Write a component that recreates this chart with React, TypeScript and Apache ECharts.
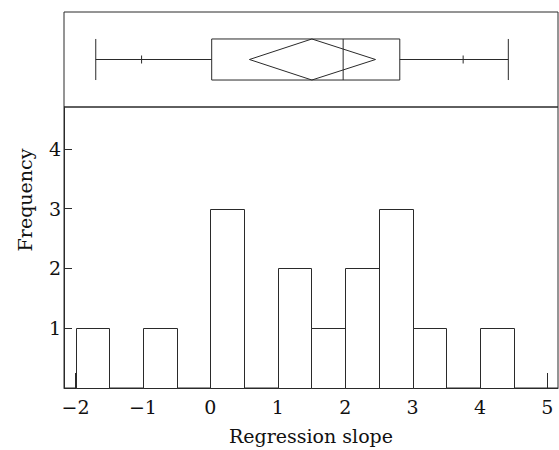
import React, { useEffect, useRef } from "react";
import * as echarts from "echarts";

// Histogram bins (left edges), bin width and counts
const binStarts = [-2, -1, 0, 1, 1.5, 2, 2.5, 3, 4];
const binWidth = 0.5;
const counts = [1, 1, 3, 2, 1, 2, 3, 1, 1];

// Box plot summary: [min, p10, q1, median, q3, p90, max]
const boxStats = [-1.7, -1.02, 0.02, 1.97, 2.81, 3.75, 4.42];
// Mean diamond: [lower, mean, upper]
const meanDiamond = [0.58, 1.506, 2.45];

const xTicks = [-2, -1, 0, 1, 2, 3, 4, 5];
const yTicks = [1, 2, 3, 4];

const X_MIN = -2.171;
const X_MAX = 5.157;
const Y_MAX = 4.7;

const FONT = "DejaVu Serif";
const LINE = "#2a2a2a";

export default function App() {
  const ref = useRef<HTMLDivElement>(null);

  useEffect(() => {
    if (!ref.current) return;
    const chart = echarts.init(ref.current, null, { renderer: "svg" });

    const fmt = (v: number) => (v < 0 ? "\u2212" + Math.abs(v) : String(v));

    const option: any = {
      animation: false,
      backgroundColor: "#fff",
      grid: [
        {
          left: 64,
          top: 12,
          width: 494,
          height: 95,
          show: true,
          borderColor: LINE,
          borderWidth: 1,
          backgroundColor: "transparent",
        },
        {
          left: 64,
          top: 107,
          width: 494,
          height: 282,
          show: true,
          borderColor: LINE,
          borderWidth: 1,
          backgroundColor: "transparent",
        },
      ],
      xAxis: [
        {
          gridIndex: 0,
          type: "value",
          min: X_MIN,
          max: X_MAX,
          show: false,
        },
        {
          gridIndex: 1,
          type: "value",
          min: X_MIN,
          max: X_MAX,
          splitLine: { show: false },
          axisLine: { show: true, onZero: false, lineStyle: { color: LINE, width: 1 } },
          axisTick: {
            show: true,
            inside: true,
            length: 15,
            customValues: xTicks,
            lineStyle: { color: LINE, width: 1 },
          },
          axisLabel: {
            show: true,
            customValues: xTicks,
            margin: 9,
            formatter: fmt,
            fontFamily: FONT,
            fontSize: 19,
            color: "#111",
          },
          name: "Regression slope",
          nameLocation: "middle",
          nameGap: 38,
          nameTextStyle: { fontFamily: FONT, fontSize: 19, color: "#111" },
        },
      ],
      yAxis: [
        {
          gridIndex: 0,
          type: "value",
          min: 0,
          max: 1,
          show: false,
        },
        {
          gridIndex: 1,
          type: "value",
          min: 0,
          max: Y_MAX,
          splitLine: { show: false },
          axisLine: { show: true, onZero: false, lineStyle: { color: LINE, width: 1 } },
          axisTick: {
            show: true,
            inside: true,
            length: 8,
            customValues: yTicks,
            lineStyle: { color: LINE, width: 1 },
          },
          axisLabel: {
            show: true,
            customValues: yTicks,
            margin: 3,
            fontFamily: FONT,
            fontSize: 19,
            color: "#111",
          },
        },
      ],
      graphic: [
        {
          type: "text",
          x: 24.5,
          y: 200,
          rotation: Math.PI / 2,
          style: {
            text: "Frequency",
            fontFamily: FONT,
            fontSize: 19,
            fill: "#111",
            textAlign: "center",
            textVerticalAlign: "middle",
          },
        },
      ],
      series: [
        {
          type: "custom",
          xAxisIndex: 1,
          yAxisIndex: 1,
          clip: false,
          data: binStarts.map((s, i) => [s, s + binWidth, counts[i]]),
          renderItem: (params: any, api: any) => {
            const x0 = api.value(0);
            const x1 = api.value(1);
            const c = api.value(2);
            const p0 = api.coord([x0, c]);
            const p1 = api.coord([x1, 0]);
            return {
              type: "rect",
              shape: {
                x: Math.round(p0[0]) + 0.5,
                y: Math.round(p0[1]) + 0.5,
                width: Math.round(p1[0]) - Math.round(p0[0]),
                height: Math.round(p1[1]) - Math.round(p0[1]),
              },
              style: { fill: "#fff", stroke: LINE, lineWidth: 1 },
            };
          },
        },
        {
          type: "custom",
          xAxisIndex: 0,
          yAxisIndex: 0,
          clip: false,
          data: [[...boxStats, ...meanDiamond]],
          renderItem: (params: any, api: any) => {
            const v = (i: number) => api.value(i);
            const X = (x: number) => api.coord([x, 0.5])[0];
            const yMid = api.coord([0, 0.5])[1];
            const yTop = api.coord([0, 0.716])[1];
            const yBot = api.coord([0, 0.284])[1];
            const tickH = 4;
            const style = { stroke: LINE, lineWidth: 1, fill: "none" };
            const ln = (x1: number, y1: number, x2: number, y2: number) => ({
              type: "line",
              shape: { x1, y1, x2, y2 },
              style,
            });
            const mn = X(v(0));
            const p10 = X(v(1));
            const q1 = X(v(2));
            const med = X(v(3));
            const q3 = X(v(4));
            const p90 = X(v(5));
            const mx = X(v(6));
            const dL = X(v(7));
            const dM = X(v(8));
            const dR = X(v(9));
            return {
              type: "group",
              children: [
                ln(mn, yMid, q1, yMid),
                ln(q3, yMid, mx, yMid),
                ln(mn, yTop, mn, yBot),
                ln(mx, yTop, mx, yBot),
                ln(p10, yMid - tickH, p10, yMid + tickH),
                ln(p90, yMid - tickH, p90, yMid + tickH),
                {
                  type: "rect",
                  shape: { x: q1, y: yTop, width: q3 - q1, height: yBot - yTop },
                  style,
                },
                ln(med, yTop, med, yBot),
                {
                  type: "polygon",
                  shape: {
                    points: [
                      [dL, yMid],
                      [dM, yTop],
                      [dR, yMid],
                      [dM, yBot],
                    ],
                  },
                  style,
                },
              ],
            };
          },
        },
      ],
    };

    chart.setOption(option);
    return () => chart.dispose();
  }, []);

  return (
    <div
      ref={ref}
      style={{ position: "fixed", left: 0, top: 0, width: 559, height: 450 }}
    />
  );
}
